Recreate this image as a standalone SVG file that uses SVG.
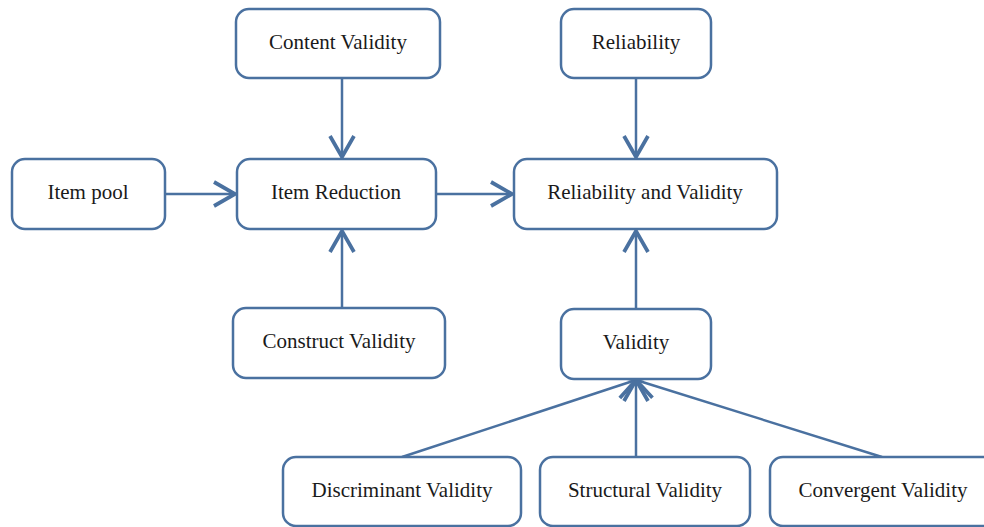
<svg xmlns="http://www.w3.org/2000/svg" width="984" height="527" viewBox="0 0 984 527">
<style>
.box{fill:#fff;stroke:#4a71a0;stroke-width:2.5}
.lbl{font-family:"Liberation Serif","DejaVu Serif",serif;font-size:21px;fill:#1a1a1a;text-anchor:middle;dominant-baseline:central}
.con{stroke:#4a71a0;stroke-width:2.5;fill:none}
</style>
<defs>
<marker id="ah" markerUnits="userSpaceOnUse" markerWidth="30" markerHeight="30" viewBox="-16 -10 20 20" refX="0" refY="0" orient="auto">
<path d="M-14,-8 L0,0 L-14,8" fill="none" stroke="#4a71a0" stroke-width="2.5"/>
</marker>
</defs>
<rect width="984" height="527" fill="#fff"/>
<g id="connectors">
<line class="con" x1="342" y1="78" x2="342" y2="157" marker-end="url(#ah)"/>
<line class="con" x1="636" y1="78" x2="636" y2="157" marker-end="url(#ah)"/>
<line class="con" x1="165" y1="194" x2="235" y2="194" marker-end="url(#ah)"/>
<line class="con" x1="436" y1="194" x2="512" y2="194" marker-end="url(#ah)"/>
<line class="con" x1="342" y1="308" x2="342" y2="231" marker-end="url(#ah)"/>
<line class="con" x1="636" y1="309" x2="636" y2="231" marker-end="url(#ah)"/>
<line class="con" x1="402" y1="457" x2="636" y2="380" marker-end="url(#ah)"/>
<line class="con" x1="636" y1="457" x2="636" y2="380" marker-end="url(#ah)"/>
<line class="con" x1="882" y1="457" x2="636" y2="380" marker-end="url(#ah)"/>
</g>
<g id="content-validity"><rect class="box" x="236" y="9" width="204" height="69" rx="13"/><text class="lbl" x="338" y="42">Content Validity</text></g>
<g id="reliability"><rect class="box" x="561" y="9" width="150" height="69" rx="13"/><text class="lbl" x="636" y="42">Reliability</text></g>
<g id="item-pool"><rect class="box" x="12" y="159" width="153" height="70" rx="13"/><text class="lbl" x="88" y="192">Item pool</text></g>
<g id="item-reduction"><rect class="box" x="237" y="159" width="199" height="70" rx="13"/><text class="lbl" x="336" y="192">Item Reduction</text></g>
<g id="reliability-validity"><rect class="box" x="514" y="159" width="263" height="70" rx="13"/><text class="lbl" x="645" y="192">Reliability and Validity</text></g>
<g id="construct-validity"><rect class="box" x="233" y="308" width="212" height="70" rx="13"/><text class="lbl" x="339" y="341">Construct Validity</text></g>
<g id="validity"><rect class="box" x="561" y="309" width="150" height="70" rx="13"/><text class="lbl" x="636" y="342">Validity</text></g>
<g id="discriminant-validity"><rect class="box" x="283" y="457" width="238" height="69" rx="13"/><text class="lbl" x="402" y="490">Discriminant Validity</text></g>
<g id="structural-validity"><rect class="box" x="540" y="457" width="210" height="69" rx="13"/><text class="lbl" x="645" y="490">Structural Validity</text></g>
<g id="convergent-validity"><rect class="box" x="770" y="457" width="226" height="69" rx="13"/><text class="lbl" x="883" y="490">Convergent Validity</text></g>
</svg>
